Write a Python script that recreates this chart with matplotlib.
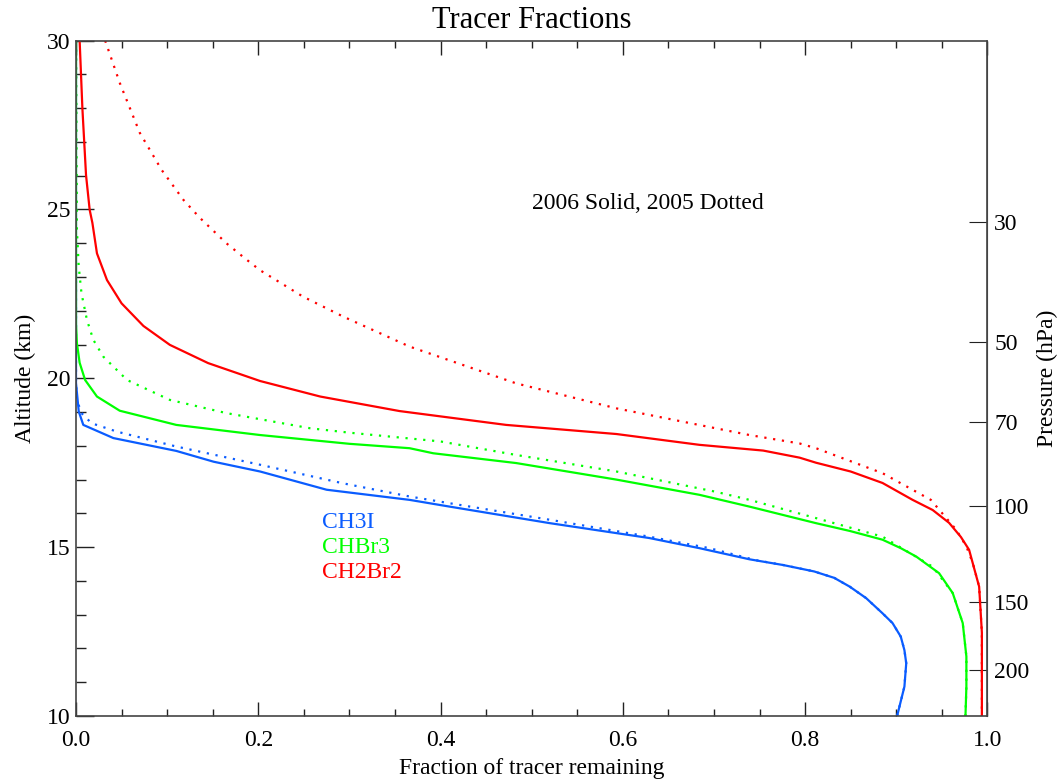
import numpy as np
import matplotlib
matplotlib.use("Agg")
import matplotlib.pyplot as plt
from matplotlib.ticker import MultipleLocator

plt.rcParams['font.family'] = ['Liberation Serif', 'DejaVu Serif']

# fraction of tracer remaining vs altitude (km); 2006 solid, 2005 dotted
ch3i_2006_z = [30.0, 19.86, 19.02, 18.62, 18.23, 17.85, 17.53, 17.24, 16.70, 16.40,
               16.20, 15.71, 15.27, 14.97, 14.64, 14.47, 14.28, 14.09, 13.83, 13.49,
               13.04, 12.75, 12.35, 11.95, 11.56, 10.87, 10.0]
ch3i_2006_f = [0.0, 0.0, 0.003, 0.008, 0.041, 0.110, 0.151, 0.202, 0.275, 0.366,
               0.410, 0.520, 0.629, 0.684, 0.739, 0.776, 0.810, 0.832, 0.849, 0.867,
               0.885, 0.896, 0.905, 0.909, 0.911, 0.909, 0.901]
ch3i_2005_z = [30.0, 19.9, 19.36, 18.97, 18.67, 18.42, 17.98, 17.44, 16.89, 16.50,
               16.30, 15.81, 15.31, 14.97, 14.62, 14.47, 14.28, 14.09, 13.83, 13.49,
               13.04, 12.75, 12.35, 11.95, 11.56, 10.87, 10.0]
ch3i_2005_f = [0.0, 0.0, 0.001, 0.006, 0.017, 0.045, 0.110, 0.202, 0.293, 0.366,
               0.410, 0.520, 0.629, 0.695, 0.745, 0.776, 0.810, 0.832, 0.849, 0.867,
               0.885, 0.896, 0.905, 0.909, 0.911, 0.909, 0.901]

chbr3_2006_z = [30.0, 21.6, 21.04, 20.46, 19.95, 19.46, 19.04, 18.62, 18.32, 18.06,
                17.93, 17.78, 17.49, 17.00, 16.55, 16.20, 15.71, 15.48, 15.22,
                14.97, 14.72, 14.23, 13.64, 12.75, 11.76, 10.87, 10.0]
chbr3_2006_f = [0.0, 0.0, 0.001, 0.004, 0.010, 0.023, 0.048, 0.110, 0.202, 0.300,
                0.366, 0.392, 0.483, 0.593, 0.684, 0.739, 0.812, 0.849, 0.885,
                0.905, 0.922, 0.947, 0.962, 0.973, 0.977, 0.977, 0.976]
chbr3_2005_z = [30.0, 24.39, 23.31, 22.52, 21.73, 21.14, 20.64, 19.95, 19.36, 18.97,
                18.52, 18.39, 18.13, 17.73, 17.24, 16.64, 16.40, 15.86, 15.31, 14.42,
                13.64, 12.75, 11.76, 10.87, 10.0]
chbr3_2005_f = [0.0, 0.001, 0.003, 0.006, 0.012, 0.019, 0.030, 0.056, 0.103, 0.165,
                0.257, 0.300, 0.400, 0.483, 0.593, 0.702, 0.739, 0.812, 0.885, 0.940,
                0.962, 0.973, 0.977, 0.977, 0.976]

ch2br2_2006_z = [30.0, 28.0, 26.02, 24.99, 24.60, 23.70, 22.91, 22.22, 21.55, 20.99,
                 20.45, 19.92, 19.46, 19.03, 18.62, 18.35, 18.03, 17.86, 17.65, 17.50,
                 17.24, 16.90, 16.40, 16.10, 15.72, 15.30, 14.92, 13.83, 12.47, 10.0]
ch2br2_2006_f = [0.004, 0.007, 0.011, 0.015, 0.018, 0.023, 0.034, 0.050, 0.074, 0.103,
                 0.145, 0.202, 0.268, 0.355, 0.472, 0.593, 0.684, 0.754, 0.794, 0.812,
                 0.850, 0.885, 0.918, 0.940, 0.958, 0.971, 0.980, 0.991, 0.994, 0.994]
ch2br2_2005_z = [30.0, 28.75, 27.27, 26.17, 25.28, 24.75, 24.00, 23.56, 23.20, 22.42,
                 21.83, 20.94, 19.85, 19.11, 18.52, 18.32, 18.07, 17.93, 17.19, 16.40,
                 15.51, 15.02, 14.53, 13.83, 12.47, 10.0]
ch2br2_2005_f = [0.032, 0.048, 0.070, 0.094, 0.118, 0.136, 0.165, 0.185, 0.202, 0.249,
                 0.293, 0.366, 0.483, 0.593, 0.702, 0.739, 0.794, 0.812, 0.885, 0.938,
                 0.966, 0.977, 0.984, 0.991, 0.994, 0.994]

names = ['CH3I', 'CHBr3', 'CH2Br2']
colors = ['#0a5cff', '#00ff00', '#ff0000']

# right-hand pressure axis (hPa), scale-height conversion
pressure_ticks = [30, 50, 70, 100, 150, 200]
H, P0 = 7.0, 1013.0


def alt_to_p(z):
    return P0 * np.exp(-np.asarray(z) / H)


def p_to_alt(p):
    return H * np.log(P0 / np.asarray(p))


fig = plt.figure(figsize=(10.57, 7.83), dpi=100)
ax = fig.add_axes([0.0719, 0.0856, 0.8622, 0.8625])

dot = (0, (1, 3))
series = [
    (ch3i_2006_f, ch3i_2006_z, ch3i_2005_f, ch3i_2005_z),
    (chbr3_2006_f, chbr3_2006_z, chbr3_2005_f, chbr3_2005_z),
    (ch2br2_2006_f, ch2br2_2006_z, ch2br2_2005_f, ch2br2_2005_z),
]
for (f6, z6, f5, z5), c in zip(series, colors):
    ax.plot(f5, z5, color=c, lw=1.6, linestyle=dot)
    ax.plot(f6, z6, color=c, lw=1.6, solid_joinstyle='round')

ax.set_xlim(0, 1)
ax.set_ylim(10, 30)
ax.xaxis.set_major_locator(MultipleLocator(0.2))
ax.xaxis.set_minor_locator(MultipleLocator(0.05))
ax.yaxis.set_major_locator(MultipleLocator(5))
ax.yaxis.set_minor_locator(MultipleLocator(1))
ax.xaxis.set_major_formatter(plt.FormatStrFormatter('%.1f'))

for s in ax.spines.values():
    s.set_color('#444444')
    s.set_linewidth(1.2)
ax.tick_params(which='both', direction='in', top=True, right=False,
               labelsize=17, color='#222222', width=1.0)
ax.tick_params(axis='x', which='major', length=10, pad=10)
ax.tick_params(axis='x', which='minor', length=5)
ax.tick_params(axis='y', which='major', length=13, pad=4)
ax.tick_params(axis='y', which='minor', length=7)

sec = ax.secondary_yaxis('right', functions=(alt_to_p, p_to_alt))
sec.set_yticks(pressure_ticks)
sec.set_yticklabels([str(p) for p in pressure_ticks])
sec.yaxis.set_minor_locator(plt.NullLocator())
sec.tick_params(direction='in', length=13, labelsize=17, color='#222222', pad=5)
sec.spines['right'].set_color('#444444')
sec.set_ylabel('Pressure (hPa)', fontsize=17, labelpad=5)

ax.set_xlabel('Fraction of tracer remaining', fontsize=17, labelpad=5)
ax.set_ylabel('Altitude (km)', fontsize=17, labelpad=8)
fig.text(0.503, 0.9645, 'Tracer Fractions', fontsize=22, ha='center', va='baseline')

ax.text(0.500, 25.19, '2006 Solid, 2005 Dotted', fontsize=17, va='center')
for i, (n, c) in enumerate(zip(names, colors)):
    ax.text(0.270, 15.72 - 0.74 * i, n, color=c, fontsize=17, va='center')

fig.savefig('out.png', dpi=100)
